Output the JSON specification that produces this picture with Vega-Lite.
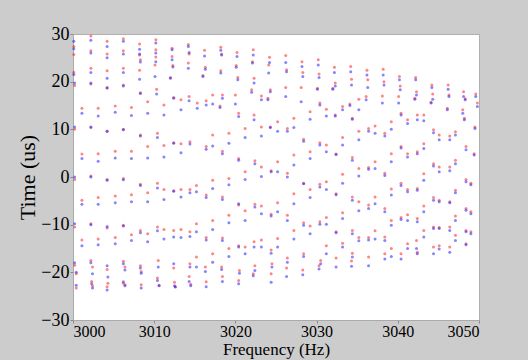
{
  "$schema": "https://vega.github.io/schema/vega-lite/v6.json",
  "width": 406,
  "height": 286,
  "autosize": "none",
  "padding": {"left": 73, "top": 34, "right": 49, "bottom": 40},
  "background": "#cccccc",
  "view": {"fill": "white", "stroke": "#b0b0b0"},
  "data": {"values": [
    {"f":3000.1,"r":27.4,"b":28.5},{"f":3000.1,"r":25.7,"b":26.9},{"f":3000.1,"r":22.0,"b":21.5},{"f":3000.2,"r":19.2,"b":19.7},{"f":3000.2,"r":10.0,"b":10.5},{"f":3000.2,"r":-0.5,"b":0.0},{"f":3000.2,"r":-10.5,"b":-9.8},{"f":3000.2,"r":-18.5,"b":-18.0},{"f":3000.4,"r":-20.3,"b":-20.0},{"f":3000.4,"r":-23.3,"b":-22.7},
    {"f":3001.1,"r":14.4,"b":13.4},{"f":3001.1,"r":4.8,"b":3.9},{"f":3001.1,"r":-4.9,"b":-5.7},{"f":3001.1,"r":-13.2,"b":-14.4},
    {"f":3002.2,"r":29.6,"b":28.7},{"f":3002.2,"r":26.5,"b":26.0},{"f":3002.2,"r":22.8,"b":21.9},{"f":3002.2,"r":19.5,"b":19.7},{"f":3002.2,"r":10.4,"b":10.5},{"f":3002.2,"r":0.2,"b":0.0},{"f":3002.2,"r":-9.8,"b":-10.0},{"f":3002.2,"r":-17.5,"b":-18.0},{"f":3002.4,"r":-18.9,"b":-20.3},{"f":3002.3,"r":-21.9,"b":-22.4},{"f":3002.4,"r":-22.8,"b":-23.3},
    {"f":3003.1,"r":14.4,"b":12.8},{"f":3003.1,"r":4.9,"b":3.3},{"f":3003.1,"r":-4.3,"b":-5.7},{"f":3003.1,"r":-13.0,"b":-14.2},
    {"f":3004.2,"r":28.5,"b":27.4},{"f":3004.2,"r":25.8,"b":25.0},{"f":3004.2,"r":22.3,"b":20.7},{"f":3004.2,"r":18.6,"b":18.8},{"f":3004.2,"r":9.6,"b":9.6},{"f":3004.2,"r":-0.5,"b":-0.7},{"f":3004.2,"r":-10.7,"b":-10.4},{"f":3004.2,"r":-19.4,"b":-18.6},{"f":3004.3,"r":-22.3,"b":-21.0},{"f":3004.2,"r":-23.0,"b":-23.7},
    {"f":3005.2,"r":14.9,"b":13.6},{"f":3005.2,"r":5.4,"b":4.0},{"f":3005.2,"r":-4.0,"b":-5.4},{"f":3005.2,"r":-12.7,"b":-14.0},
    {"f":3006.2,"r":29.0,"b":28.5},{"f":3006.2,"r":26.5,"b":25.8},{"f":3006.2,"r":22.8,"b":21.9},{"f":3006.2,"r":19.3,"b":19.1},{"f":3006.2,"r":10.0,"b":9.9},{"f":3006.2,"r":-0.3,"b":-0.6},{"f":3006.2,"r":-10.1,"b":-10.3},{"f":3006.2,"r":-17.7,"b":-18.2},{"f":3006.4,"r":-18.9,"b":-19.5},{"f":3006.2,"r":-22.3,"b":-22.0},{"f":3006.4,"r":-22.6,"b":-22.8},
    {"f":3007.2,"r":14.6,"b":12.9},{"f":3007.2,"r":5.4,"b":3.9},{"f":3007.2,"r":-3.7,"b":-5.2},{"f":3007.2,"r":-12.1,"b":-13.3},
    {"f":3008.2,"r":27.9,"b":26.8},{"f":3008.2,"r":25.6,"b":25.8},{"f":3008.3,"r":24.6,"b":24.1},{"f":3008.2,"r":22.4,"b":20.5},{"f":3008.3,"r":17.7,"b":17.5},{"f":3008.3,"r":8.8,"b":8.6},{"f":3008.3,"r":-1.5,"b":-1.8},{"f":3008.3,"r":-11.2,"b":-11.7},{"f":3008.3,"r":-18.6,"b":-19.1},{"f":3008.4,"r":-19.8,"b":-20.2},{"f":3008.4,"r":-22.6,"b":-23.3},
    {"f":3009.2,"r":15.8,"b":13.4},{"f":3009.2,"r":6.4,"b":4.0},{"f":3009.2,"r":-3.3,"b":-5.2},{"f":3009.2,"r":-11.9,"b":-13.6},
    {"f":3010.2,"r":28.8,"b":28.1},{"f":3010.2,"r":26.7,"b":26.0},{"f":3010.2,"r":25.2,"b":24.2},{"f":3010.1,"r":23.5,"b":21.1},{"f":3010.3,"r":18.4,"b":17.4},{"f":3010.4,"r":9.2,"b":8.3},{"f":3010.4,"r":-1.3,"b":-2.3},{"f":3010.4,"r":-10.5,"b":-11.3},{"f":3010.5,"r":-17.5,"b":-18.9},{"f":3010.4,"r":-21.2,"b":-21.7},{"f":3010.6,"r":-22.7,"b":-22.8},
    {"f":3011.2,"r":15.1,"b":13.0},{"f":3011.2,"r":6.6,"b":4.2},{"f":3011.2,"r":-2.6,"b":-4.7},{"f":3011.2,"r":-11.0,"b":-13.0},
    {"f":3012.2,"r":27.0,"b":26.7},{"f":3012.2,"r":25.3,"b":24.6},{"f":3012.3,"r":23.4,"b":23.1},{"f":3012.0,"r":20.9,"b":20.7},{"f":3012.4,"r":16.7,"b":16.5},{"f":3012.4,"r":7.2,"b":7.1},{"f":3012.4,"r":-2.9,"b":-3.0},{"f":3012.4,"r":-11.2,"b":-12.6},{"f":3012.4,"r":-19.1,"b":-18.2},{"f":3012.5,"r":-22.1,"b":-22.8},{"f":3012.6,"r":-23.1,"b":-23.0},
    {"f":3013.3,"r":16.2,"b":14.1},{"f":3013.3,"r":7.0,"b":5.1},{"f":3013.3,"r":-2.6,"b":-4.2},{"f":3013.3,"r":-11.0,"b":-12.7},
    {"f":3014.2,"r":27.8,"b":27.4},{"f":3014.3,"r":25.8,"b":26.1},{"f":3014.2,"r":23.9,"b":22.8},{"f":3014.3,"r":16.9,"b":16.0},{"f":3014.4,"r":7.4,"b":6.9},{"f":3014.4,"r":-2.6,"b":-3.3},{"f":3014.4,"r":-11.5,"b":-12.5},{"f":3014.4,"r":-18.2,"b":-18.9},{"f":3014.3,"r":-20.9,"b":-21.9},{"f":3014.5,"r":-22.5,"b":-22.8},
    {"f":3015.3,"r":15.5,"b":14.4},{"f":3015.2,"r":-1.8,"b":-3.1},{"f":3015.2,"r":-9.8,"b":-11.5},{"f":3015.2,"r":-16.8,"b":-18.9},
    {"f":3016.2,"r":26.6,"b":25.4},{"f":3016.3,"r":23.0,"b":22.6},{"f":3016.0,"r":21.3,"b":21.1},{"f":3016.4,"r":16.0,"b":15.1},{"f":3016.4,"r":6.4,"b":5.8},{"f":3016.4,"r":-3.8,"b":-4.3},{"f":3016.4,"r":-12.7,"b":-13.2},{"f":3016.3,"r":-18.9,"b":-19.8},{"f":3016.4,"r":-22.0,"b":-23.0},
    {"f":3017.2,"r":17.2,"b":15.3},{"f":3017.2,"r":8.8,"b":6.5},{"f":3017.2,"r":-0.7,"b":-2.4},{"f":3017.2,"r":-9.1,"b":-11.0},{"f":3017.2,"r":-16.1,"b":-17.9},
    {"f":3018.2,"r":27.2,"b":26.6},{"f":3018.3,"r":25.8,"b":25.6},{"f":3018.2,"r":22.3,"b":21.8},{"f":3018.4,"r":17.2,"b":16.5},{"f":3018.1,"r":14.9,"b":14.6},{"f":3018.4,"r":5.4,"b":4.9},{"f":3018.4,"r":-4.2,"b":-4.7},{"f":3018.4,"r":-12.8,"b":-13.3},{"f":3018.3,"r":-18.9,"b":-19.4},{"f":3018.4,"r":-20.9,"b":-21.9},
    {"f":3019.2,"r":9.2,"b":7.1},{"f":3019.2,"r":-0.3,"b":-1.6},{"f":3019.2,"r":-8.0,"b":-9.6},{"f":3019.2,"r":-15.0,"b":-16.7},
    {"f":3020.2,"r":26.1,"b":25.3},{"f":3020.1,"r":23.4,"b":23.0},{"f":3020.3,"r":20.9,"b":20.4},{"f":3020.0,"r":17.2,"b":15.3},{"f":3020.4,"r":13.4,"b":12.7},{"f":3020.4,"r":3.9,"b":3.5},{"f":3020.4,"r":-5.9,"b":-5.6},{"f":3020.4,"r":-14.4,"b":-14.7},{"f":3020.5,"r":-19.6,"b":-20.2},{"f":3020.4,"r":-21.7,"b":-22.4},
    {"f":3021.2,"r":10.2,"b":8.3},{"f":3021.2,"r":1.1,"b":-0.5},{"f":3021.2,"r":-7.1,"b":-9.1},{"f":3021.2,"r":-14.7,"b":-16.1},
    {"f":3022.2,"r":26.7,"b":25.6},{"f":3022.1,"r":24.2,"b":23.9},{"f":3022.3,"r":20.7,"b":19.7},{"f":3022.0,"r":18.3,"b":17.8},{"f":3022.3,"r":13.0,"b":12.0},{"f":3022.4,"r":3.4,"b":2.8},{"f":3022.4,"r":-5.7,"b":-6.3},{"f":3022.3,"r":-13.6,"b":-14.7},{"f":3022.4,"r":-18.6,"b":-19.6},{"f":3022.2,"r":-20.3,"b":-20.7},
    {"f":3023.2,"r":17.0,"b":16.2},{"f":3023.2,"r":10.5,"b":8.6},{"f":3023.2,"r":2.1,"b":0.1},{"f":3023.2,"r":-6.1,"b":-7.7},{"f":3023.2,"r":-13.2,"b":-14.7},
    {"f":3024.2,"r":25.1,"b":24.0},{"f":3024.1,"r":23.5,"b":21.8},{"f":3024.3,"r":18.3,"b":17.9},{"f":3024.0,"r":16.5,"b":16.2},{"f":3024.3,"r":10.5,"b":10.4},{"f":3024.4,"r":1.3,"b":1.1},{"f":3024.4,"r":-7.8,"b":-8.2},{"f":3024.4,"r":-15.3,"b":-16.0},{"f":3024.5,"r":-18.2,"b":-18.9},{"f":3024.4,"r":-20.3,"b":-22.1},
    {"f":3025.2,"r":11.6,"b":9.6},{"f":3025.2,"r":3.2,"b":1.1},{"f":3025.2,"r":-5.4,"b":-7.3},{"f":3025.2,"r":-12.9,"b":-14.7},
    {"f":3026.2,"r":25.5,"b":24.0},{"f":3026.3,"r":22.5,"b":22.1},{"f":3026.2,"r":18.8,"b":16.9},{"f":3026.4,"r":10.2,"b":9.6},{"f":3026.4,"r":0.8,"b":0.0},{"f":3026.4,"r":-8.0,"b":-9.1},{"f":3026.4,"r":-17.0,"b":-17.9},{"f":3026.3,"r":-19.1,"b":-20.9},
    {"f":3027.2,"r":12.3,"b":10.4},{"f":3027.2,"r":4.6,"b":2.5},{"f":3027.2,"r":-3.5,"b":-5.6},{"f":3027.2,"r":-11.2,"b":-13.0},
    {"f":3028.2,"r":24.2,"b":23.2},{"f":3028.3,"r":21.9,"b":21.1},{"f":3028.1,"r":18.8,"b":15.8},{"f":3028.4,"r":7.9,"b":7.5},{"f":3028.4,"r":-1.3,"b":-1.4},{"f":3028.4,"r":-9.6,"b":-10.1},{"f":3028.4,"r":-16.1,"b":-16.7},{"f":3028.3,"r":-19.5,"b":-20.5},
    {"f":3029.2,"r":13.7,"b":12.1},{"f":3029.2,"r":5.3,"b":3.9},{"f":3029.2,"r":-2.6,"b":-4.3},{"f":3029.2,"r":-10.3,"b":-11.9},
    {"f":3030.2,"r":24.6,"b":23.5},{"f":3030.3,"r":21.6,"b":20.9},{"f":3030.1,"r":18.6,"b":18.4},{"f":3030.4,"r":15.5,"b":15.1},{"f":3030.4,"r":7.2,"b":6.7},{"f":3030.4,"r":-1.5,"b":-2.1},{"f":3030.4,"r":-9.4,"b":-9.9},{"f":3030.5,"r":-17.5,"b":-18.2},{"f":3030.3,"r":-18.6,"b":-19.3},
    {"f":3031.2,"r":14.2,"b":12.8},{"f":3031.2,"r":6.7,"b":5.3},{"f":3031.2,"r":-1.0,"b":-2.6},{"f":3031.2,"r":-8.5,"b":-9.9},{"f":3031.2,"r":-14.4,"b":-16.1},
    {"f":3032.2,"r":23.0,"b":21.9},{"f":3032.3,"r":19.7,"b":19.1},{"f":3032.0,"r":18.6,"b":18.4},{"f":3032.3,"r":13.0,"b":12.8},{"f":3032.4,"r":4.8,"b":4.7},{"f":3032.4,"r":-3.5,"b":-3.7},{"f":3032.4,"r":-11.5,"b":-11.7},{"f":3032.4,"r":-17.0,"b":-18.9},
    {"f":3033.2,"r":14.8,"b":14.1},{"f":3033.2,"r":8.3,"b":6.7},{"f":3033.2,"r":0.6,"b":-1.3},{"f":3033.2,"r":-7.5,"b":-8.7},{"f":3033.2,"r":-13.9,"b":-14.7},
    {"f":3034.2,"r":23.2,"b":22.1},{"f":3034.3,"r":20.5,"b":19.3},{"f":3034.1,"r":15.3,"b":15.0},{"f":3034.4,"r":12.3,"b":12.1},{"f":3034.4,"r":4.1,"b":3.5},{"f":3034.4,"r":-4.2,"b":-4.9},{"f":3034.4,"r":-11.2,"b":-11.9},{"f":3034.4,"r":-16.0,"b":-16.8},{"f":3034.3,"r":-17.6,"b":-18.7},
    {"f":3035.2,"r":16.3,"b":14.1},{"f":3035.2,"r":9.6,"b":7.8},{"f":3035.2,"r":1.8,"b":0.2},{"f":3035.2,"r":-5.2,"b":-7.1},{"f":3035.2,"r":-12.7,"b":-13.4},
    {"f":3036.2,"r":22.4,"b":21.4},{"f":3036.3,"r":20.4,"b":18.8},{"f":3036.1,"r":16.9,"b":16.2},{"f":3036.4,"r":10.2,"b":9.6},{"f":3036.4,"r":2.0,"b":1.6},{"f":3036.4,"r":-5.9,"b":-6.6},{"f":3036.4,"r":-12.7,"b":-13.2},{"f":3036.4,"r":-16.8,"b":-18.6},
    {"f":3037.2,"r":10.7,"b":9.2},{"f":3037.2,"r":3.2,"b":1.8},{"f":3037.2,"r":-4.2,"b":-5.6},{"f":3037.2,"r":-11.3,"b":-13.0},
    {"f":3038.2,"r":22.6,"b":21.4},{"f":3038.3,"r":20.0,"b":19.3},{"f":3038.1,"r":17.0,"b":15.5},{"f":3038.4,"r":9.2,"b":8.6},{"f":3038.4,"r":0.8,"b":0.3},{"f":3038.4,"r":-6.6,"b":-7.3},{"f":3038.4,"r":-12.6,"b":-13.3},{"f":3038.4,"r":-16.1,"b":-17.2},
    {"f":3039.2,"r":11.6,"b":10.0},{"f":3039.2,"r":4.9,"b":3.2},{"f":3039.2,"r":-2.5,"b":-3.8},{"f":3039.2,"r":-9.1,"b":-10.1},{"f":3039.2,"r":-15.0,"b":-16.7},
    {"f":3040.2,"r":21.1,"b":20.4},{"f":3040.3,"r":19.1,"b":18.3},{"f":3040.1,"r":16.9,"b":15.5},{"f":3040.4,"r":13.4,"b":13.0},{"f":3040.4,"r":6.4,"b":6.1},{"f":3040.4,"r":-1.3,"b":-1.8},{"f":3040.4,"r":-8.5,"b":-8.9},{"f":3040.4,"r":-16.1,"b":-17.2},
    {"f":3041.2,"r":12.0,"b":11.2},{"f":3041.2,"r":4.9,"b":4.2},{"f":3041.2,"r":-2.6,"b":-3.1},{"f":3041.2,"r":-7.9,"b":-9.1},{"f":3041.2,"r":-14.0,"b":-15.0},
    {"f":3042.2,"r":20.9,"b":20.4},{"f":3042.3,"r":17.9,"b":17.2},{"f":3042.1,"r":16.5,"b":16.3},{"f":3042.4,"r":13.0,"b":12.0},{"f":3042.4,"r":5.3,"b":4.9},{"f":3042.4,"r":-2.4,"b":-2.8},{"f":3042.4,"r":-8.7,"b":-9.4},{"f":3042.3,"r":-13.3,"b":-15.0},{"f":3042.4,"r":-15.8,"b":-16.1},
    {"f":3043.2,"r":13.0,"b":11.8},{"f":3043.2,"r":7.0,"b":6.0},{"f":3043.2,"r":0.7,"b":-0.7},{"f":3043.2,"r":-6.1,"b":-7.3},{"f":3043.2,"r":-11.2,"b":-12.6},
    {"f":3044.2,"r":19.3,"b":18.8},{"f":3044.3,"r":17.4,"b":16.3},{"f":3044.1,"r":15.7,"b":15.5},{"f":3044.4,"r":9.9,"b":9.3},{"f":3044.4,"r":2.8,"b":2.3},{"f":3044.4,"r":-4.3,"b":-4.9},{"f":3044.4,"r":-10.5,"b":-10.8},{"f":3044.4,"r":-14.7,"b":-16.1},
    {"f":3045.1,"r":8.8,"b":7.8},{"f":3045.1,"r":2.1,"b":1.1},{"f":3045.1,"r":-4.9,"b":-5.2},{"f":3045.1,"r":-10.6,"b":-10.8},{"f":3045.1,"r":-14.4,"b":-15.1},
    {"f":3046.2,"r":19.3,"b":18.4},{"f":3046.3,"r":17.2,"b":16.9},{"f":3046.1,"r":14.4,"b":14.1},{"f":3046.4,"r":8.6,"b":7.8},{"f":3046.4,"r":2.1,"b":1.3},{"f":3046.4,"r":-5.2,"b":-5.4},{"f":3046.4,"r":-10.5,"b":-11.2},{"f":3046.4,"r":-14.7,"b":-15.8},
    {"f":3047.1,"r":9.5,"b":8.8},{"f":3047.1,"r":3.5,"b":2.8},{"f":3047.1,"r":-2.8,"b":-3.3},{"f":3047.1,"r":-8.2,"b":-9.1},{"f":3047.1,"r":-12.2,"b":-13.3},
    {"f":3048.1,"r":17.9,"b":16.9},{"f":3048.3,"r":16.4,"b":16.2},{"f":3048.0,"r":14.1,"b":13.4},{"f":3048.2,"r":12.3,"b":12.0},{"f":3048.4,"r":6.4,"b":5.7},{"f":3048.4,"r":-0.5,"b":-1.0},{"f":3048.4,"r":-6.6,"b":-7.0},{"f":3048.4,"r":-11.2,"b":-11.5},{"f":3048.4,"r":-14.0,"b":-14.2},
    {"f":3049.0,"r":-1.3,"b":-1.6},{"f":3049.0,"r":-7.3,"b":-7.7},{"f":3049.0,"r":-11.5,"b":-11.9},
    {"f":3049.6,"r":17.4,"b":16.9},{"f":3049.8,"r":15.5,"b":14.8},{"f":3049.5,"r":10.5,"b":10.2},{"f":3049.4,"r":4.9,"b":4.6}
  ]},
  "transform": [{"fold": ["r", "b"], "as": ["s", "t"]}],
  "mark": {"type": "point", "filled": true, "size": 9, "opacity": 0.55},
  "encoding": {
    "x": {"field": "f", "type": "quantitative", "scale": {"domain": [3000, 3050], "nice": false, "zero": false},
      "axis": {"values": [3000, 3010, 3020, 3030, 3040, 3050], "title": "Frequency (Hz)", "grid": false, "format": "d",
        "labelFont": "Liberation Sans Narrow", "labelFontSize": 16, "labelColor": "#000", "labelPadding": 0,
        "titleFont": "Liberation Serif", "titleFontSize": 17, "titleFontWeight": "normal", "titleColor": "#000", "titlePadding": 2,
        "domainColor": "#aaaaaa", "tickColor": "#888888", "tickSize": 3}},
    "y": {"field": "t", "type": "quantitative", "scale": {"domain": [-30, 30], "nice": false, "zero": false},
      "axis": {"values": [-30, -20, -10, 0, 10, 20, 30], "title": "Time (us)", "grid": false,
        "labelFont": "Liberation Sans Narrow", "labelFontSize": 18, "labelColor": "#000", "labelPadding": 1,
        "titleFont": "Liberation Serif", "titleFontSize": 22, "titleFontWeight": "normal", "titleColor": "#000", "titlePadding": 1,
        "domainColor": "#aaaaaa", "tickColor": "#888888", "tickSize": 3}},
    "color": {"field": "s", "type": "nominal", "scale": {"domain": ["r", "b"], "range": ["#ff2020", "#2020ff"]}, "legend": null}
  }
}
